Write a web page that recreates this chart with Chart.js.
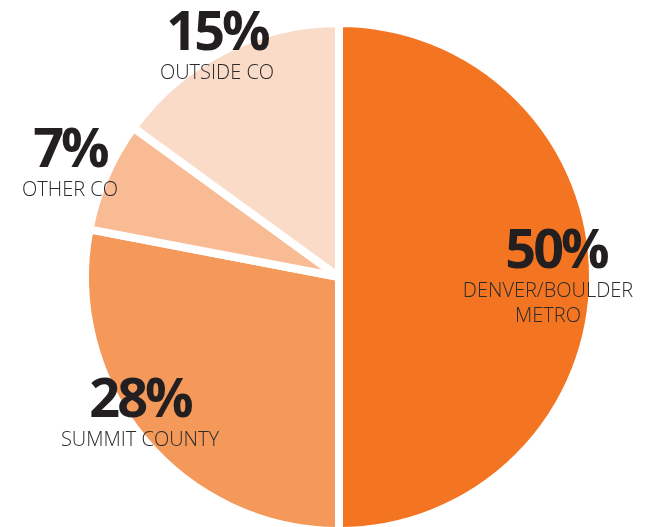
<!DOCTYPE html>
<html>
<head>
<meta charset="utf-8">
<script src="https://cdn.jsdelivr.net/npm/chart.js@4"></script>
<style>
  html, body { margin: 0; padding: 0; background: #fff; overflow: hidden; }
  #wrap { position: absolute; left: 0; top: 0; width: 649px; height: 535px; }
</style>
</head>
<body>
<div id="wrap"><canvas id="chart-1"></canvas></div>
<script>
const regions = ["DENVER/BOULDER\nMETRO", "SUMMIT COUNTY", "OTHER CO", "OUTSIDE CO"];
const shares = [50, 28, 7, 15];
const sliceColors = ["#f37521", "#f5995a", "#f8bb93", "#fadbc7"];

// where each label block sits (centre x, baseline of the big number)
const labelSpots = [
  { x: 556, y: 268 },
  { x: 140, y: 417 },
  { x: 70, y: 167 },
  { x: 217, y: 50 }
];

const sliceLabels = {
  id: "sliceLabels",
  afterDraw(chart) {
    const ctx = chart.ctx;
    ctx.save();
    ctx.textAlign = "center";
    ctx.textBaseline = "alphabetic";
    shares.forEach((v, i) => {
      const p = labelSpots[i];
      ctx.fillStyle = "#231f20";
      ctx.font = "bold 54px 'Open Sans', sans-serif";
      ctx.letterSpacing = "-3px";
      ctx.fillText(v + "%", p.x, p.y);
      ctx.fillStyle = "#2b2b2b";
      ctx.font = "300 20px 'Open Sans', sans-serif";
      ctx.letterSpacing = "0px";
      regions[i].split("\n").forEach((line, j) => {
        ctx.fillText(line, p.x - (i === 0 ? 8 : 0), p.y + 29 + j * 25);
      });
    });
    ctx.restore();
  }
};

new Chart(document.getElementById("chart-1"), {
  type: "pie",
  data: {
    labels: regions,
    datasets: [{
      data: shares,
      backgroundColor: sliceColors,
      borderColor: "#ffffff",
      borderWidth: 8,
      hoverOffset: 0
    }]
  },
  options: {
    responsive: true,
    maintainAspectRatio: false,
    animation: false,
    layout: {
      padding: { top: 19, left: 29, right: 0, bottom: 0 }
    },
    plugins: {
      legend: { display: false },
      tooltip: { enabled: false }
    }
  },
  plugins: [sliceLabels]
});
</script>
</body>
</html>
